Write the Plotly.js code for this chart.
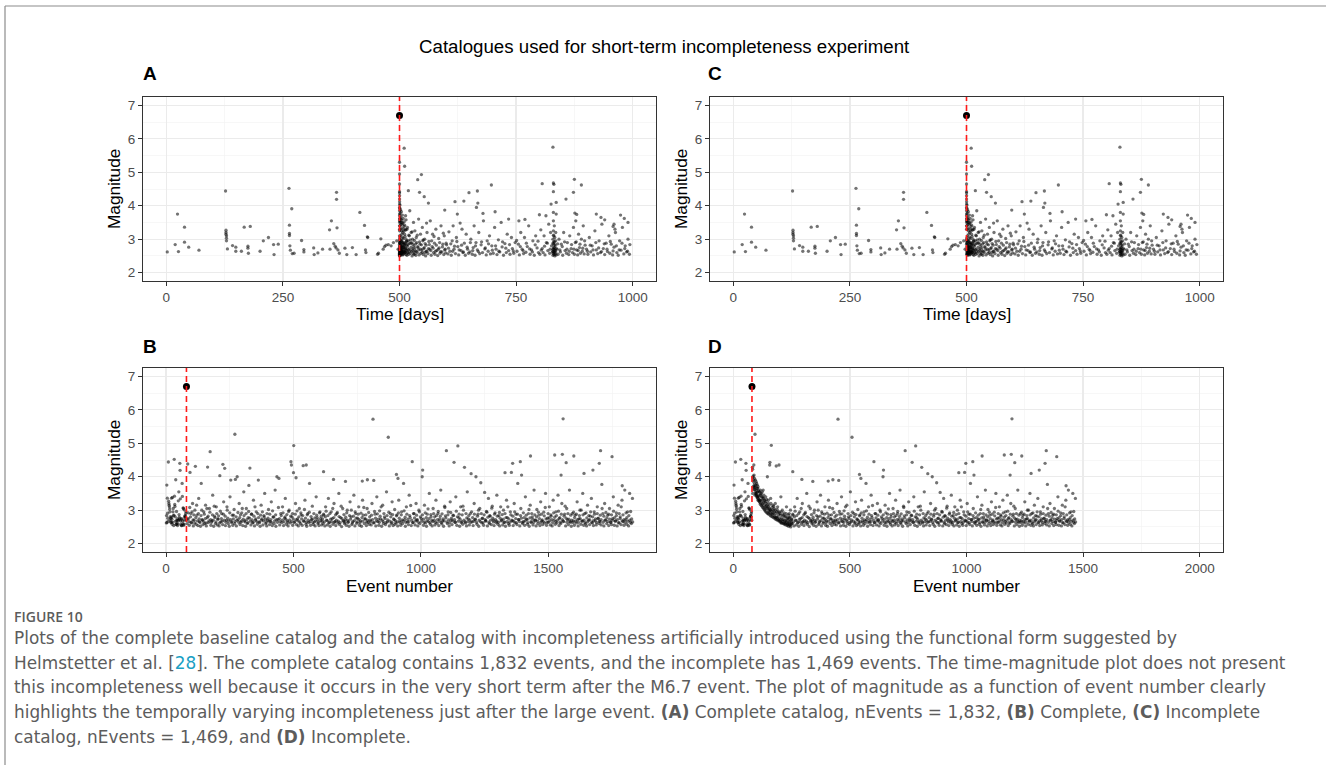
<!DOCTYPE html>
<html><head><meta charset="utf-8">
<script src="https://cdn.plot.ly/plotly-3.0.1.min.js"></script>
<style>html,body{margin:0;padding:0;background:#fff;}#chart{width:1326px;height:765px;}</style>
</head><body><div id="chart"></div>
<script>
// ---------------- DATA ----------------
const mainTime = 500, mainMag = 6.7, mainNum = 80;
const nRemoved = 363; // 1832 - 1469 events removed by the incompleteness
const timeTicks = [0, 250, 500, 750, 1000];
const numTicksB = [0, 500, 1000, 1500];
const numTicksD = [0, 500, 1000, 1500, 2000];
const magTicks = [2, 3, 4, 5, 6, 7];

// pre-mainshock events [time (days), magnitude], in time order (event numbers 1..79)
const preShock = [[2,2.62],[19,2.84],[24,3.75],[26,2.63],[39,3.36],[39,2.91],[48,2.76],[70,2.67],
[127,4.44],[128,3.27],[128,3.2],[128,3.15],[129,3.1],[129,3.03],[129,2.95],[131,2.71],
[142,2.81],[149,2.76],[149,2.64],[161,2.64],[167,3.36],[175,2.79],[175,2.73],[176,2.58],[180,3.38],
[201,2.64],[208,2.95],[219,3.05],[230,2.84],[231,2.54],[240,2.85],
[263,4.52],[264,3.42],[264,3.17],[264,3.11],[265,2.8],[266,2.67],[269,3.91],[270,2.57],[274,2.58],
[290,2.96],[295,2.69],[295,2.62],[316,2.74],[317,2.54],[325,2.59],[335,2.7],
[350,3.28],[351,2.7],[354,3.55],[359,2.87],[362,2.79],[364,2.74],[365,4.4],[365,4.19],[366,3.34],[368,2.68],[371,2.58],
[383,2.73],[387,2.54],[399,2.75],[407,2.54],[415,3.8],[425,3.41],[427,2.68],[428,2.6],[431,3.07],[432,3.05],
[453,2.55],[455,2.58],[460,3.01],[465,2.7],[468,2.78],[471,2.82],[476,2.84],[482,2.8],[487,2.9],[494,2.95],[497,2.7]];

// first hours after the mainshock [time, magnitude]: complete (A) and incomplete (C)
const earlyComplete = [[500.01,5.3],[500.02,2.52],[500.02,4.95],[500.03,2.7],[500.04,3.1],[500.05,4.65],[500.05,2.58],[500.06,3.85],[500.07,2.9],[500.08,4.42],
[500.09,2.63],[500.1,3.4],[500.1,4.38],[500.11,2.55],[500.12,3.7],[500.13,2.8],[500.14,4.3],[500.15,3.25],[500.16,2.5],[500.17,3.95],
[500.18,4.2],[500.19,2.66],[500.2,3.55],[500.21,3.0],[500.22,4.12],[500.23,2.74],[500.24,3.6],[500.25,2.53],[500.26,3.3],[500.27,4.05],
[500.28,2.85],[500.28,3.75],[500.29,2.6],[500.3,3.5],[500.3,2.95]];
const earlyIncomplete = [[500.01,5.3],[500.02,4.95],[500.05,4.65],[500.06,3.85],[500.08,4.42],[500.1,3.4],[500.1,4.38],[500.12,3.7],[500.14,4.3],[500.17,3.95],
[500.18,4.2],[500.2,3.55],[500.21,3.0],[500.22,4.12],[500.24,3.6],[500.26,3.3],[500.27,4.05],[500.28,2.85],[500.28,3.75],[500.3,3.5],[500.3,2.95]];

// first days after the mainshock (after the incompleteness window) [time, magnitude] (same in A and C)
const firstDays = [[500.5,2.56],[500.6,3.92],[500.7,2.78],[500.8,3.62],[500.9,2.64],[501.0,4.02],[501.2,2.88],[501.4,3.78],[501.6,2.6],[501.8,3.52],
[502.0,2.72],[502.2,3.88],[502.5,2.54],[502.8,3.66],[503.0,2.94],[503.3,3.44],[503.6,2.67],[504.0,3.82],[504.3,2.58],[504.7,3.56],
[505.0,2.8],[505.4,3.34],[505.8,2.62],[506.2,3.72],[506.6,2.9],[507.0,3.48],[507.5,2.55],[508.0,3.62],[508.5,2.76],[509.0,3.24],
[509.5,2.64],[510.0,3.52],[510.6,2.84],[511.2,3.42],[511.8,2.6],[512.4,3.28],[513.0,2.7],[514.0,3.58],[515.0,2.93],[516.0,3.3]];

// later aftershocks and background [time, magnitude] (same in A and C)
const postShock = [[501,2.55],[501,2.9],[501,3.4],[502,2.6],[502,3.1],[502,2.75],[503,2.52],[503,2.8],[503,3.6],[504,2.65],[504,3.25],[505,2.58],[505,2.95],[506,2.7],[506,3.45],[507,2.53],[507,3.05],[508,2.62],[508,2.85],[509,3.3],[510,2.57],[510,5.72],[511,2.75],[511,3.15],[511,5.18],[512,2.6],[513,2.9],[513,3.7],[514,2.54],[514,3.0],[515,2.68],
[516,2.52],[517,2.78],[517,3.35],[518,2.6],[519,2.95],[519,4.45],[520,2.55],[521,3.1],[521,2.7],[522,3.85],[523,2.58],[524,2.88],[525,3.2],[526,2.63],[527,2.5],[528,3.0],[529,2.72],[530,2.56],[530,3.5],
[531,2.8],[532,2.55],[533,3.25],[534,2.66],[535,2.52],[536,3.05],[537,2.9],[538,2.6],[539,4.78],[540,2.75],[541,3.6],[542,2.53],[543,4.4],[544,2.85],[545,3.15],[546,2.58],[547,4.93],[548,2.68],[549,3.35],[550,2.95],[551,2.54],[552,2.72],[553,4.27],[554,3.0],[555,2.6],[556,2.5],[557,2.82],[558,3.48],[559,2.64],
[561,2.57],[562,4.08],[563,2.93],[565,2.7],[566,3.55],[568,2.52],[570,2.78],[571,3.15],[573,2.6],[575,2.88],[576,2.55],[578,3.3],[580,2.66],[582,2.51],[584,3.02],[585,2.74],[587,2.58],[589,3.4],[591,2.62],[593,2.85],[595,2.54],[596,3.1],[597,3.87],[598,2.7],[599,2.59],
[601,2.83],[604,2.56],[606,3.22],[608,2.64],[611,2.52],[613,2.95],[615,3.4],[617,2.7],[619,4.12],[620,2.57],[622,3.05],[624,3.75],[625,2.78],[627,2.53],[630,3.48],[632,2.66],[634,3.3],[636,2.6],[638,4.14],[639,2.88],[641,2.52],[643,3.15],[646,2.7],[648,2.58],[649,4.39],
[651,2.62],[653,3.0],[656,2.55],[658,2.75],[660,3.4],[662,2.52],[664,2.9],[665,3.95],[667,4.44],[667,2.68],[668,4.08],[670,3.2],[672,2.57],[675,2.83],[678,2.6],[679,3.77],[680,3.55],[683,2.71],[686,2.53],[688,2.95],[690,2.64],[693,3.1],[695,2.56],[697,4.62],[698,2.8],
[701,2.58],[704,3.35],[705,3.82],[707,2.7],[709,2.54],[712,2.98],[715,2.62],[718,3.5],[720,2.77],[723,2.52],[726,2.87],[729,2.6],[731,3.15],[734,3.6],[734,2.66],[737,2.55],[740,3.05],[742,2.72],[745,2.58],[748,2.9],
[752,2.64],[755,2.85],[756,3.55],[757,2.53],[760,3.2],[763,2.7],[766,2.57],[768,3.05],[769,3.59],[771,2.61],[774,2.78],[777,3.4],[780,2.55],[783,2.68],[786,2.95],[789,2.52],[792,3.1],[795,2.74],[798,2.6],
[800,3.73],[801,2.55],[803,3.28],[806,4.66],[806,2.72],[808,2.6],[810,3.1],[812,2.53],[814,3.7],[815,2.9],[818,2.66],[820,3.45],[822,2.58],[824,3.2],[825,4.05],[826,2.8],[828,2.62],
[829,5.75],[829,2.52],[829,2.7],[829,3.0],[830,4.68],[830,4.42],[830,3.8],[830,2.58],[830,2.85],[830,3.25],[830,3.55],[831,4.64],[831,2.54],[831,2.75],[831,3.1],[832,2.6],[832,2.92],[832,3.4],[833,2.5],[833,2.68],[833,3.05],[834,2.56],[834,2.8],[835,2.62],[835,2.95],[836,4.1],[836,3.75],[836,2.53],
[838,2.7],[840,2.55],[842,3.0],[845,2.62],[847,2.85],[850,2.52],[852,3.2],[855,2.66],[857,4.2],[858,2.58],[860,2.9],[863,2.54],[865,3.1],[868,2.72],
[871,2.6],[873,4.4],[873,3.35],[875,4.79],[875,2.55],[876,3.78],[877,2.9],[878,3.55],[880,3.74],[880,2.68],[882,2.53],[884,3.15],[886,2.75],[888,2.58],[890,4.62],[890,3.0],[892,2.64],[894,3.4],[896,2.56],[898,2.82],
[901,2.7],[904,2.55],[907,3.05],[910,2.62],[913,2.8],[916,2.53],[919,3.25],[922,3.75],[922,2.68],[925,2.57],[928,2.95],[931,2.6],[932,3.65],[934,3.45],[937,2.72],[940,3.58],[940,2.54],[943,2.88],[946,2.63],[949,3.1],
[951,2.58],[954,2.85],[957,2.53],[958,3.38],[960,3.45],[960,2.76],[962,3.3],[963,3.2],[966,2.6],[969,2.52],[972,2.95],[974,3.72],[975,2.67],[978,3.35],[981,2.56],[982,3.62],[984,2.8],[987,2.62],[990,3.5],[990,3.0],[993,2.55]];

// more small events in the dense band [time, magnitude] (same in A and C)
const postBand = [[501,2.68],[501,3.05],[502,2.83],[502,3.3],[503,2.66],[503,2.97],[504,2.78],[504,3.5],[505,2.72],[505,3.15],[506,2.88],[506,2.6],[507,2.76],[507,3.2],[508,2.7],[508,3.02],[509,2.64],[509,2.9],[510,2.8],[510,3.38],[511,2.62],[512,2.86],[512,3.08],[513,2.73],[514,2.66],[514,3.28],[515,2.82],[516,2.95],[517,2.61],[518,2.84],[519,2.69],[520,3.12],[521,2.87],[522,2.65],[523,2.98],[525,2.76],[526,2.9],[527,3.22],[528,2.67],[529,2.85],
[531,2.62],[532,2.96],[533,2.74],[535,2.86],[536,2.63],[538,3.12],[539,2.78],[541,2.68],[543,2.92],[545,2.7],[547,2.83],[549,2.61],[551,2.98],[553,2.75],[555,2.87],[557,2.64],[559,3.2],[562,2.72],[564,2.84],[567,2.66],[569,2.95],[572,2.73],[574,3.08],[577,2.64],[579,2.82],[583,2.7],[586,2.9],[588,2.63],[592,2.77],[594,3.18],[597,2.68],[600,2.88],
[605,2.73],[610,2.86],[614,2.64],[618,2.79],[623,2.93],[628,2.68],[633,2.82],[637,2.62],[645,2.76],[652,2.9],[657,2.66],[663,2.8],[669,2.63],[676,2.92],[684,2.74],[691,2.86],[699,2.67],[706,2.8],[713,2.64],[721,2.92],[728,2.73],[736,2.84],[744,2.65],[751,2.96],[759,2.78],[765,2.66],[772,2.88],[779,2.71],[785,2.62],[791,2.83],[797,2.94],[804,2.67],[811,2.79],[817,2.88],[823,2.7],
[829,2.64],[829,2.88],[830,2.7],[830,3.12],[831,2.63],[831,2.92],[832,2.75],[833,2.84],[834,2.66],[835,3.2],[836,2.72],
[839,2.86],[844,2.68],[849,2.78],[854,2.92],[859,2.7],[864,2.64],[869,2.84],[874,2.7],[879,2.92],[883,2.66],[887,2.85],[893,2.73],[897,2.95],[903,2.64],[909,2.82],[915,2.68],[921,2.9],[927,2.74],[933,2.63],[939,2.86],[945,2.7],[952,2.93],[958,2.65],[965,2.8],[971,2.68],[977,2.88],[983,2.72],[989,2.64],[994,2.84]];

// complete catalog, first hours after the mainshock [event number, magnitude] (B only)
const earlyNumComplete = [[82,2.6],[85,4.38],[88,2.75],[91,2.55],[94,4.13],[97,2.9],[100,2.62],[104,3.2],[107,2.53],[110,2.7],[113,3.0],[115,4.31],[118,2.58],[121,2.85],[125,2.54],[128,3.35],[131,2.66],[135,2.52],[138,3.8],[141,2.72],[145,2.57],[148,2.95],[152,2.6],[155,3.15],[158,2.53],[162,2.78],[163,4.29],[166,2.63],[170,3.05],[173,4.75],[176,2.55],[180,2.68],[183,3.45],[187,2.52],[190,2.82],[194,2.6],[197,3.1],
[201,2.56],[204,2.74],[208,2.53],[211,4.03],[215,2.65],[218,2.9],[222,2.57],[223,4.37],[226,3.25],[230,4.25],[233,2.54],[237,2.7],[240,3.0],[244,2.6],[248,2.52],[251,3.4],[254,3.9],[258,2.66],[262,2.55],[265,2.85],[269,2.6],[270,5.27],[272,3.92],[276,2.53],[279,4.0],[283,2.72],[287,3.2],[290,2.57],[294,2.64],[297,2.92],
[301,2.54],[305,3.55],[308,2.68],[312,2.52],[315,3.05],[319,2.6],[322,2.78],[325,3.74],[329,4.26],[333,2.56],[336,2.88],[340,2.62],[343,3.3],[347,2.53],[351,2.7],[354,2.95],[358,2.58],[362,3.9],[365,2.65],[369,2.52],[373,3.15],[376,2.74],[380,2.56],[384,2.84],[387,3.5],[391,2.6],[395,2.53],[398,2.7],
[402,3.02],[406,2.57],[409,2.66],[413,3.25],[417,2.54],[420,2.8],[424,2.6],[428,3.6],[431,2.52],[435,4.0],[439,2.72],[443,3.95],[446,2.56],[450,2.9],[454,2.63],[457,3.1],[461,2.54],[465,2.76],[468,3.35],[472,2.58],[476,2.68],[479,2.53],[483,3.0],[487,2.62],[490,4.45],[492,4.35],[494,2.8],[497,2.55],
[500,4.12],[501,4.93],[505,2.66],[508,3.2],[510,3.97],[512,2.57],[516,2.74],[519,2.53],[523,3.05],[527,2.6],[530,2.86],[534,2.55],[538,4.33],[541,2.68],[545,3.3],[549,2.58],[550,4.35],[552,2.52],[556,2.9],[560,2.63],[563,3.8],[567,2.55],[571,2.72],[574,3.12],[578,2.57],[582,2.65],[585,2.53],[589,3.4],[593,2.78],[596,2.6],[600,2.54],[604,2.95],[607,2.68],[611,2.56],
[83,2.74],[87,2.92],[90,2.66],[93,3.08],[96,2.8],[99,2.64],[102,2.95],[106,2.71],[109,2.86],[112,2.62],[117,2.78],[120,3.15],[123,2.68],[127,2.9],[130,2.74],[133,2.63],[137,2.84],[140,3.0],[143,2.7],[147,2.66],[150,2.88],[154,2.75],[157,2.62],[160,3.05],[165,2.82],[168,2.68],[172,2.94],[175,2.72],[178,2.64],[182,2.86],[185,2.7],[189,3.12],[192,2.78],[196,2.65],[199,2.9],
[203,2.73],[206,2.83],[210,2.62],[213,2.97],[217,2.75],[220,2.67],[225,2.88],[228,2.7],[232,2.82],[235,2.64],[239,3.1],[242,2.76],[246,2.68],[250,2.92],[253,2.72],[257,2.63],[260,2.85],[264,2.74],[267,3.02],[271,2.66],[275,2.8],[278,2.7],[282,2.93],[285,2.64],[289,2.78],[292,2.86],[296,2.68],[299,3.05],
[303,2.73],[306,2.84],[310,2.65],[314,2.9],[317,2.72],[321,2.63],[324,2.96],[328,2.76],[331,2.67],[335,2.88],[338,2.71],[342,2.64],[345,2.82],[349,3.1],[352,2.74],[356,2.66],[360,2.9],[363,2.78],[367,2.63],[371,2.85],[374,2.7],[378,2.95],[382,2.68],[385,2.8],[389,2.73],[393,2.64],[396,2.9],
[400,2.76],[404,2.67],[407,2.88],[411,2.72],[415,2.63],[418,2.98],[422,2.79],[426,2.68],[430,2.86],[433,2.72],[437,2.64],[441,3.08],[445,2.75],[448,2.66],[452,2.84],[456,2.7],[459,2.92],[463,2.65],[467,2.8],[470,2.73],[474,2.87],[478,2.64],[481,2.96],[485,2.71],[489,2.82],[493,2.66],[496,2.9],[499,2.74],
[503,2.63],[507,2.88],[511,2.72],[514,2.98],[518,2.68],[521,2.8],[525,2.65],[529,2.92],[532,2.74],[536,2.84],[540,2.67],[543,3.02],[547,2.76],[551,2.64],[554,2.86],[558,2.7],[562,2.94],[565,2.66],[569,2.81],[573,2.73],[576,2.63],[580,2.9],[584,2.77],[587,2.68],[591,2.85],[595,2.71],[598,2.64],[602,2.92],[606,2.75],[609,2.82],[612,2.67]];

// incomplete catalog, surviving early events [event number, magnitude] (D only)
const earlyNumIncomplete = [[82,4.28],[83,4.22],[84,3.98],[85,4.02],[86,3.9],[87,3.85],[88,4.35],[89,3.72],[90,3.78],[91,3.68],[92,3.62],[93,5.27],[94,3.55],[95,3.7],[95,3.9],[96,3.5],[97,3.48],[98,3.6],[99,3.45],[100,3.52],[100,3.8],[101,3.42],[102,3.38],[103,3.75],[104,3.4],[105,3.35],[105,3.65],[106,3.3],[108,3.45],[109,3.28],[110,3.32],[110,3.55],[112,3.25],[113,3.55],[115,3.22],[115,3.45],[116,3.18],[118,3.3],[120,3.15],[120,3.5],[121,3.4],[123,3.12],[125,3.2],[125,3.4],[126,3.08],[128,3.6],[130,3.05],[130,3.35],[132,3.15],[134,3.02],[135,3.3],[136,2.98],[138,3.25],[140,2.95],[140,3.2],[142,3.05],[144,2.92],[145,3.15],[146,4.0],[148,2.9],[150,3.1],[150,3.3],[152,2.88],[154,2.95],[155,3.05],[156,4.35],[157,4.43],[158,2.85],[160,3.35],[160,3.0],[162,2.82],[163,4.94],[165,2.9],[167,2.8],[170,3.0],[170,3.15],[172,2.78],[175,2.85],[175,3.05],[178,2.75],[180,3.2],[183,2.72],[184,4.32],[185,2.95],[186,2.8],[189,2.7],[190,3.1],[192,2.95],[195,2.68],[196,4.35],[198,2.75],[200,2.9],[201,2.65],[204,3.4],[207,2.62],[210,2.7],[210,3.0],[213,2.6],[216,2.85],[219,2.58],[220,2.8],[222,2.65],[225,2.56],[228,3.1],[230,2.75],[231,2.54],[234,2.6],[237,2.52],[240,2.78],[240,2.9],[243,2.55],[245,3.0],[246,2.5],[249,2.62],
[83,3.5],[85,3.7],[87,3.62],[89,4.05],[91,3.95],[93,3.45],[96,3.75],[98,3.85],[101,3.65],[103,3.55],[106,3.7],[108,3.58],[111,3.4],[113,3.3],[116,3.6],[118,3.48],[122,3.28],[124,3.55],[127,3.35],[129,3.22],[131,3.45],[133,3.28],[137,3.1],[139,3.4],[141,3.12],[143,3.32],[147,3.05],[149,3.22],[151,2.98],[153,3.15],[157,3.02],[159,2.92],[161,3.2],[164,2.98],[166,3.08],[168,2.88],[171,2.92],[173,3.12],[176,2.95],[177,2.8],[179,3.0],[181,2.78],[182,2.9],[187,2.76],[188,3.02],[191,2.8],[193,2.72],[194,2.88],[197,2.95],[199,2.68],[202,2.85],[203,2.72],[205,2.62],[206,2.95],[208,2.78],[211,2.66],[212,2.86],[214,2.72],[217,2.62],[218,2.92],[221,2.7],[223,2.6],[224,2.82],[226,2.68],[227,2.9],[229,2.64],[232,2.78],[233,2.58],[235,2.7],[236,2.86],[238,2.62],[239,2.74],[241,2.66],[242,2.56],[244,2.8],[247,2.68],[248,2.58],[250,2.72]];

// later events [event number in complete catalog, magnitude]; in the incomplete catalog the number is shifted by nRemoved
const lateNum = [[616,2.6],[618,4.15],[619,2.85],[623,2.53],[626,3.1],[630,2.7],[633,2.56],[637,3.35],[641,2.64],[644,2.52],[648,2.95],[652,2.75],[655,2.58],[657,3.92],[659,3.2],[663,2.66],[666,2.54],[670,2.9],[674,2.62],[678,3.5],[681,2.57],[685,2.78],[689,2.51],[693,3.05],[697,2.68],[700,2.6],
[703,2.72],[704,3.86],[707,2.55],[711,3.0],[714,2.63],[718,2.52],[722,3.25],[726,2.8],[729,2.57],[733,2.66],[737,3.45],[741,2.53],[744,2.9],[748,2.61],[752,2.76],[756,3.1],[759,2.55],[763,2.68],[767,2.52],[770,3.87],[771,3.3],[774,2.85],[778,2.6],[782,2.74],[786,2.54],[789,3.05],[790,3.91],[793,2.64],[797,2.58],
[801,2.7],[805,2.56],[808,3.2],[812,5.72],[815,3.89],[816,2.62],[820,2.88],[823,2.53],[827,3.4],[831,2.66],[835,2.55],[838,2.98],[842,2.74],[846,2.52],[850,3.15],[853,2.6],[857,2.8],[861,2.57],[865,3.55],[868,2.65],[872,5.18],[876,2.53],[880,2.9],[884,2.6],[887,3.25],[891,2.54],[895,2.72],[898,2.58],
[902,2.62],[904,4.07],[906,2.86],[909,2.53],[910,3.95],[913,3.3],[917,2.68],[921,2.55],[924,2.95],[928,2.6],[932,3.8],[936,2.72],[939,2.52],[943,3.1],[947,2.65],[951,2.57],[954,3.45],[958,2.78],[962,2.54],[966,4.45],[969,2.63],[973,2.9],[977,2.56],[981,3.2],[984,2.7],[988,2.53],[992,3.0],[996,2.6],
[1001,2.75],[1005,4.0],[1007,4.2],[1010,2.55],[1014,3.15],[1018,2.62],[1022,2.52],[1025,2.88],[1029,2.66],[1033,3.5],[1037,2.58],[1040,2.8],[1044,2.53],[1048,3.05],[1052,2.7],[1055,2.56],[1059,3.3],[1063,2.61],[1067,2.9],[1070,2.54],[1074,2.74],[1078,3.6],[1082,2.59],[1085,2.68],[1089,2.52],[1093,3.12],[1096,2.83],[1100,4.78],
[1104,2.6],[1107,2.95],[1111,2.53],[1115,3.25],[1119,2.7],[1122,2.57],[1126,2.85],[1130,4.43],[1134,2.64],[1137,3.4],[1141,2.55],[1145,4.92],[1149,2.78],[1152,2.52],[1156,3.1],[1160,2.66],[1164,2.58],[1167,3.0],[1171,4.28],[1175,2.62],[1179,2.53],[1182,3.55],[1186,2.74],[1190,2.56],[1194,2.9],[1197,4.09],
[1201,2.65],[1205,2.54],[1209,3.2],[1212,2.72],[1216,4.0],[1220,2.58],[1224,2.88],[1227,2.52],[1231,3.05],[1235,3.82],[1239,2.62],[1242,2.76],[1246,2.55],[1250,3.53],[1254,2.68],[1257,2.96],[1261,2.53],[1265,3.35],[1269,2.6],[1272,2.82],[1276,2.57],[1280,3.12],[1284,2.7],[1287,2.54],[1291,2.92],[1295,2.63],[1298,3.45],
[1302,2.58],[1306,2.84],[1309,2.53],[1313,3.1],[1317,2.7],[1321,2.56],[1324,3.0],[1328,2.64],[1330,4.12],[1332,2.52],[1336,3.3],[1339,2.78],[1343,2.6],[1347,2.55],[1351,2.95],[1355,4.13],[1358,2.68],[1360,4.4],[1362,2.54],[1366,3.2],[1369,2.62],[1373,2.88],[1377,2.57],[1380,3.8],[1384,2.72],[1388,2.53],[1390,4.45],[1392,3.05],[1395,4.05],[1399,2.6],
[1403,2.66],[1407,2.55],[1410,3.4],[1414,2.74],[1418,2.58],[1422,2.9],[1425,2.52],[1429,3.15],[1430,4.62],[1433,2.63],[1437,2.8],[1440,2.56],[1444,3.6],[1448,2.7],[1452,2.53],[1455,3.02],[1459,2.6],[1463,2.85],[1467,2.54],[1470,3.25],[1474,2.68],[1478,2.57],[1482,2.94],[1485,2.62],[1489,3.5],[1493,2.55],[1497,2.76],
[1500,2.64],[1504,3.1],[1508,2.56],[1511,2.82],[1515,2.53],[1519,3.3],[1523,2.7],[1525,4.65],[1527,2.58],[1530,2.95],[1534,2.62],[1538,3.45],[1542,2.54],[1545,2.78],[1549,2.6],[1550,4.05],[1553,3.2],[1555,4.67],[1558,5.73],[1560,2.66],[1564,2.88],[1568,2.53],[1570,4.42],[1572,3.05],[1575,2.72],[1579,2.57],[1583,3.6],[1587,2.64],[1590,2.52],[1594,2.9],[1598,2.68],[1600,4.62],
[1602,2.55],[1605,2.85],[1609,2.62],[1613,3.25],[1617,2.53],[1620,2.74],[1624,3.0],[1628,2.58],[1632,2.67],[1635,3.5],[1639,2.55],[1640,4.1],[1643,2.9],[1647,2.6],[1650,2.53],[1654,3.15],[1658,2.7],[1662,2.57],[1665,2.82],[1669,3.35],[1673,2.62],[1675,4.2],[1677,2.54],[1680,2.95],[1684,2.68],[1688,2.56],[1692,3.1],[1695,2.75],[1699,2.6],[1700,4.4],
[1703,2.66],[1705,4.78],[1707,2.56],[1710,3.77],[1714,2.9],[1718,2.53],[1721,3.2],[1725,2.7],[1729,2.6],[1733,2.85],[1737,2.54],[1740,3.05],[1744,2.64],[1748,2.57],[1750,4.6],[1752,2.75],[1755,3.4],[1759,2.55],[1763,2.68],[1767,2.92],[1770,2.53],[1774,3.15],[1778,2.62],[1782,2.8],[1785,2.57],[1789,3.3],[1790,3.73],[1793,2.66],[1797,2.55],[1800,3.6],[1804,2.72],[1808,2.58],[1811,2.95],[1815,2.53],[1819,3.5],[1822,2.64],[1826,2.6],[1830,3.35]];

// more small later events in the dense band [event number in complete catalog, magnitude]
const lateBand = [[614,2.74],[618,2.88],[621,2.65],[625,2.8],[628,2.97],[632,2.69],[635,2.84],[639,2.62],[643,2.9],[646,2.73],[650,2.66],[654,3.05],[658,2.78],[661,2.64],[665,2.86],[668,2.7],[672,2.93],[676,2.67],[679,2.81],[683,2.63],[687,3.12],[690,2.75],[694,2.68],[698,2.87],
[702,2.64],[705,2.79],[709,2.92],[712,2.7],[716,2.66],[720,2.84],[724,2.73],[727,3.0],[731,2.62],[735,2.82],[739,2.69],[742,2.95],[746,2.76],[750,2.65],[754,2.88],[757,2.72],[761,2.63],[765,2.91],[769,2.78],[772,2.67],[776,3.08],[780,2.74],[784,2.86],[787,2.64],[791,2.7],[795,2.93],[799,2.8],
[803,2.66],[806,2.85],[810,2.72],[814,2.63],[818,2.96],[822,2.76],[825,2.68],[829,2.89],[833,2.73],[837,2.64],[840,2.82],[844,3.1],[848,2.7],[852,2.66],[855,2.9],[859,2.75],[863,2.63],[867,2.84],[870,2.71],[874,2.94],[878,2.67],[882,2.8],[886,2.64],[889,2.87],[893,2.74],[897,3.02],
[900,2.69],[904,2.83],[908,2.65],[912,2.92],[915,2.76],[919,2.63],[923,2.86],[926,2.71],[930,2.67],[934,2.98],[938,2.79],[941,2.64],[945,2.88],[949,2.73],[953,2.66],[956,2.84],[960,3.14],[964,2.7],[968,2.63],[971,2.9],[975,2.77],[979,2.68],[983,2.85],[986,2.72],[990,2.64],[994,2.95],[998,2.8],
[1003,2.67],[1006,2.86],[1010,2.73],[1013,2.64],[1017,2.92],[1021,2.78],[1024,2.69],[1028,3.04],[1032,2.75],[1035,2.63],[1039,2.87],[1043,2.7],[1046,2.66],[1050,2.9],[1054,2.8],[1057,2.64],[1061,2.84],[1065,2.72],[1068,2.96],[1072,2.67],[1076,2.82],[1080,2.63],[1083,2.89],[1087,2.74],[1091,2.68],[1094,3.08],[1098,2.77],
[1102,2.65],[1106,2.86],[1109,2.71],[1113,2.63],[1117,2.93],[1120,2.76],[1124,2.68],[1128,2.84],[1132,2.72],[1135,2.64],[1139,2.97],[1143,2.8],[1147,2.67],[1150,2.88],[1154,2.73],[1158,2.63],[1162,2.86],[1165,3.12],[1169,2.7],[1173,2.65],[1177,2.9],[1180,2.77],[1184,2.66],[1188,2.84],[1192,2.71],[1195,2.64],[1199,2.95],
[1203,2.78],[1207,2.67],[1210,2.88],[1214,2.73],[1218,2.64],[1222,2.82],[1226,3.0],[1229,2.7],[1233,2.66],[1237,2.9],[1240,2.75],[1244,2.63],[1248,2.86],[1252,2.72],[1255,2.68],[1259,2.94],[1263,2.79],[1267,2.64],[1270,2.84],[1274,2.7],[1278,3.06],[1282,2.76],[1285,2.65],[1289,2.88],[1293,2.72],[1297,2.67],
[1300,2.82],[1304,2.64],[1308,2.93],[1311,2.76],[1315,2.68],[1319,2.87],[1323,2.73],[1326,2.63],[1330,2.9],[1334,2.78],[1338,2.66],[1341,3.1],[1345,2.74],[1349,2.64],[1353,2.86],[1357,2.7],[1361,2.82],[1364,2.67],[1368,2.95],[1372,2.75],[1375,2.63],[1379,2.88],[1383,2.72],[1387,2.66],[1391,2.84],[1394,2.76],[1398,2.64],
[1402,2.92],[1405,2.78],[1409,2.68],[1413,2.85],[1417,2.72],[1420,2.63],[1424,3.02],[1428,2.77],[1432,2.66],[1435,2.9],[1439,2.73],[1443,2.64],[1447,2.86],[1450,2.7],[1454,2.8],[1458,2.67],[1461,2.94],[1465,2.75],[1469,2.63],[1473,2.88],[1476,2.71],[1480,2.66],[1484,2.83],[1488,3.08],[1491,2.74],[1495,2.64],[1499,2.9],
[1503,2.77],[1506,2.68],[1510,2.86],[1514,2.72],[1517,2.63],[1521,2.92],[1525,2.79],[1529,2.66],[1532,2.84],[1536,2.7],[1540,2.97],[1543,2.75],[1547,2.64],[1551,2.88],[1555,2.72],[1558,2.67],[1562,2.82],[1566,3.12],[1570,2.76],[1573,2.64],[1577,2.9],[1581,2.73],[1584,2.66],[1588,2.85],[1592,2.7],[1596,2.63],[1599,2.94],
[1603,2.78],[1607,2.67],[1610,2.88],[1614,2.72],[1618,2.64],[1622,2.84],[1625,2.75],[1629,3.0],[1633,2.68],[1636,2.86],[1640,2.7],[1644,2.63],[1648,2.92],[1651,2.77],[1655,2.66],[1659,2.84],[1662,2.72],[1666,2.95],[1670,2.64],[1674,2.8],[1677,2.69],[1681,2.88],[1685,2.74],[1689,2.63],[1692,2.9],[1696,2.76],
[1700,2.67],[1704,2.85],[1707,2.72],[1711,3.05],[1715,2.64],[1718,2.82],[1722,2.7],[1726,2.93],[1730,2.77],[1733,2.66],[1737,2.88],[1741,2.73],[1745,2.64],[1748,2.86],[1752,2.7],[1756,2.97],[1760,2.78],[1763,2.67],[1767,2.84],[1771,2.72],[1775,2.63],[1778,2.9],[1782,2.75],[1786,3.1],[1790,2.68],[1793,2.86],[1797,2.72],[1801,2.64],[1805,2.92],[1808,2.78],[1812,2.67],[1816,2.84],[1820,2.7],[1823,2.96],[1827,2.74],[1831,2.65]];

// ---------------- CHART ----------------
const W = 1326, H = 765;
const px = v => v / W, py = v => 1 - v / H;
const tickFont = {family: '"Liberation Sans", Arial, sans-serif', size: 13.5, color: '#4d4d4d'};
const axisFont = {family: '"Liberation Sans", Arial, sans-serif', size: 17.2, color: '#000'};

function baseAxis(range, tickvals, minorStep, domain, anchor) {
  return {
    domain: domain, range: range, anchor: anchor,
    tickmode: 'array', tickvals: tickvals, ticktext: tickvals.map(String),
    ticks: 'outside', ticklen: 4, tickwidth: 1, tickcolor: '#333',
    showline: true, mirror: true, linecolor: '#333', linewidth: 1,
    showgrid: true, gridcolor: '#ebebeb', gridwidth: 1.2, zeroline: false,
    tickfont: tickFont, fixedrange: true,
    minor: {tickmode: 'linear', tick0: 0, dtick: minorStep, showgrid: true, gridcolor: '#f2f2f2', gridwidth: 0.6, ticks: ''}
  };
}

const panels = {
  A: {x: [143, 656], y: [97, 281]},
  C: {x: [710, 1223], y: [97, 281]},
  B: {x: [143, 656], y: [368, 552]},
  D: {x: [710, 1223], y: [368, 552]}
};
const dom = p => ({x: [px(p.x[0]), px(p.x[1])], y: [py(p.y[1]), py(p.y[0])]});
const magRange = [1.75, 7.25];

const layout = {
  width: W, height: H, margin: {l: 0, r: 0, t: 0, b: 0},
  paper_bgcolor: '#fff', plot_bgcolor: '#fff', showlegend: false,
  xaxis:  baseAxis([-50, 1050], timeTicks, 125, dom(panels.A).x, 'y'),
  yaxis:  baseAxis(magRange, magTicks, 0.5, dom(panels.A).y, 'x'),
  xaxis2: baseAxis([-50, 1050], timeTicks, 125, dom(panels.C).x, 'y2'),
  yaxis2: baseAxis(magRange, magTicks, 0.5, dom(panels.C).y, 'x2'),
  xaxis3: baseAxis([-90.5, 1922.5], numTicksB, 250, dom(panels.B).x, 'y3'),
  yaxis3: baseAxis(magRange, magTicks, 0.5, dom(panels.B).y, 'x3'),
  xaxis4: baseAxis([-100, 2100], numTicksD, 250, dom(panels.D).x, 'y4'),
  yaxis4: baseAxis(magRange, magTicks, 0.5, dom(panels.D).y, 'x4'),
  shapes: [], annotations: []
};

const pt = {size: 3.3, color: 'rgba(0,0,0,0.55)', line: {width: 0}};
const big = {size: 7, color: '#000', line: {width: 0}};
function sc(xs, ys, xa, ya, marker) {
  return {type: 'scatter', mode: 'markers', x: xs, y: ys, xaxis: xa, yaxis: ya, marker: marker, hoverinfo: 'x+y', cliponaxis: true};
}
const X = a => a.map(p => p[0]), Y = a => a.map(p => p[1]);
const preNum = preShock.map((p, i) => i + 1);
const preMag = Y(preShock);
const postAll = firstDays.concat(postShock, postBand);
const lateAll = lateNum.concat(lateBand);

const data = [
  // A: complete, time
  sc(X(preShock), preMag, 'x', 'y', pt),
  sc(X(earlyComplete), Y(earlyComplete), 'x', 'y', pt),
  sc(X(postAll), Y(postAll), 'x', 'y', pt),
  sc([mainTime], [mainMag], 'x', 'y', big),
  // C: incomplete, time
  sc(X(preShock), preMag, 'x2', 'y2', pt),
  sc(X(earlyIncomplete), Y(earlyIncomplete), 'x2', 'y2', pt),
  sc(X(postAll), Y(postAll), 'x2', 'y2', pt),
  sc([mainTime], [mainMag], 'x2', 'y2', big),
  // B: complete, event number
  sc(preNum, preMag, 'x3', 'y3', pt),
  sc(X(earlyNumComplete), Y(earlyNumComplete), 'x3', 'y3', pt),
  sc(X(lateAll), Y(lateAll), 'x3', 'y3', pt),
  sc([mainNum], [mainMag], 'x3', 'y3', big),
  // D: incomplete, event number
  sc(preNum, preMag, 'x4', 'y4', pt),
  sc(X(earlyNumIncomplete), Y(earlyNumIncomplete), 'x4', 'y4', pt),
  sc(lateAll.map(p => p[0] - nRemoved), Y(lateAll), 'x4', 'y4', pt),
  sc([mainNum], [mainMag], 'x4', 'y4', big)
];

// red dashed mainshock lines
[['x', 'y', mainTime], ['x2', 'y2', mainTime], ['x3', 'y3', mainNum], ['x4', 'y4', mainNum]].forEach(([xa, ya, v]) => {
  layout.shapes.push({type: 'line', xref: xa, yref: ya + ' domain', x0: v, x1: v, y0: 0, y1: 1,
    line: {color: '#ff1a1a', width: 1.6, dash: '6px,4px'}, layer: 'above'});
});
// page frame (top and left rules)
layout.shapes.push({type: 'line', xref: 'paper', yref: 'paper', x0: px(5), x1: 1, y0: py(6), y1: py(6), line: {color: '#8c8c8c', width: 1.2}});
layout.shapes.push({type: 'line', xref: 'paper', yref: 'paper', x0: px(5), x1: px(5), y0: py(6), y1: 0, line: {color: '#8c8c8c', width: 1.2}});

function ann(text, x, y, opts) {
  layout.annotations.push(Object.assign({text: text, xref: 'paper', yref: 'paper', x: px(x), y: py(y),
    showarrow: false, xanchor: 'center', yanchor: 'middle'}, opts || {}));
}
ann('Catalogues used for short-term incompleteness experiment', 664, 46, {font: {family: '"Liberation Sans", Arial, sans-serif', size: 18.7, color: '#000'}});
const letterFont = {family: '"Liberation Sans", Arial, sans-serif', size: 19, color: '#000', weight: 'bold'};
ann('<b>A</b>', 141, 74, {xanchor: 'left', font: letterFont});
ann('<b>C</b>', 706, 74, {xanchor: 'left', font: letterFont});
ann('<b>B</b>', 141, 347, {xanchor: 'left', font: letterFont});
ann('<b>D</b>', 706, 347, {xanchor: 'left', font: letterFont});
ann('Magnitude', 114, 189, {textangle: -90, font: axisFont});
ann('Magnitude', 681, 189, {textangle: -90, font: axisFont});
ann('Magnitude', 114, 460, {textangle: -90, font: axisFont});
ann('Magnitude', 681, 460, {textangle: -90, font: axisFont});
ann('Time [days]', 399.5, 314, {font: axisFont});
ann('Time [days]', 966.5, 314, {font: axisFont});
ann('Event number', 399.5, 586, {font: axisFont});
ann('Event number', 966.5, 586, {font: axisFont});

const capFont = {family: '"DejaVu Sans", "Open Sans", sans-serif', size: 16.9, color: '#5c5c5c'};
ann('FIGURE 10', 12, 616, {xanchor: 'left', font: {family: '"Open Sans", "Noto Sans", sans-serif', size: 14, color: '#5c5c5c', weight: 600}});
const capLines = [
  'Plots of the complete baseline catalog and the catalog with incompleteness artificially introduced using the functional form suggested by',
  'Helmstetter et al. [<span style="color:#1a9fc4">28</span>]. The complete catalog contains 1,832 events, and the incomplete has 1,469 events. The time-magnitude plot does not present',
  'this incompleteness well because it occurs in the very short term after the M6.7 event. The plot of magnitude as a function of event number clearly',
  'highlights the temporally varying incompleteness just after the large event. <b>(A)</b> Complete catalog, nEvents = 1,832, <b>(B)</b> Complete, <b>(C)</b> Incomplete',
  'catalog, nEvents = 1,469, and <b>(D)</b> Incomplete.'
];
capLines.forEach((t, i) => ann(t, 12, 638 + 24.7 * i, {xanchor: 'left', font: capFont}));

Plotly.newPlot('chart', data, layout, {staticPlot: true, displayModeBar: false});
</script>
</body></html>
